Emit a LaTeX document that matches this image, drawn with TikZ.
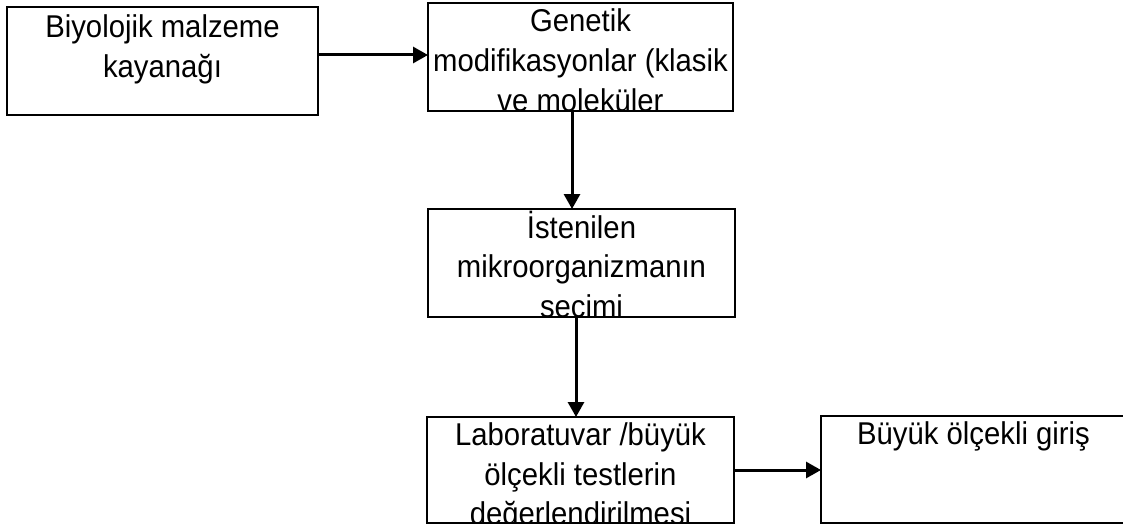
\documentclass[tikz,border=0pt]{standalone}
\usepackage{fontspec}
\setmainfont{Liberation Sans}[FakeStretch=0.93]
\usetikzlibrary{arrows.meta,calc}
\newcommand{\boxtext}[4]{\parbox[c][#2pt][t]{#1pt}{\centering\rule{0pt}{#3pt}#4}}
\tikzset{
  box/.style={draw, line width=2.2pt, rectangle, inner sep=0pt, outer sep=0pt,
    anchor=north west, font=\fontsize{31.5}{39.5}\selectfont},
  arr/.style={line width=3pt, -{Triangle[length=15pt,width=16pt]}},
}
\begin{document}
\begin{tikzpicture}[x=1pt,y=-1pt]
\clip (0,0) rectangle (1123,524);
\fill[white] (0,0) rectangle (1123,524);
\node[box] (b1) at (7,7) {\boxtext{311}{108}{31}{Biyolojik malzeme\\kayanağı}};
\node[box] (b2) at (428,3) {\boxtext{305}{108}{29}{Genetik\\modifikasyonlar (klasik\\ve moleküler}};
\node[box] (b3) at (428,209) {\boxtext{307}{108}{29}{İstenilen\\mikroorganizmanın\\secimi}};
\node[box] (b4) at (427,417) {\boxtext{307}{106}{28.5}{Laboratuvar /büyük\\ölçekli testlerin\\değerlendirilmesi}};
\node[box] (b5) at (821,416) {\boxtext{305}{107}{28.5}{Büyük ölçekli giriş}};
\draw[arr] ([yshift=6pt]b1.east) coordinate (s1) -- (s1 -| b2.west);
\draw[arr] ([xshift=-8.5pt]b2.south) coordinate (s2) -- (s2 |- b3.north);
\draw[arr] ([xshift=-5.5pt]b3.south) coordinate (s3) -- (s3 |- b4.north);
\draw[arr] (b4.east) -- (b4.east -| b5.west);
\end{tikzpicture}
\end{document}
